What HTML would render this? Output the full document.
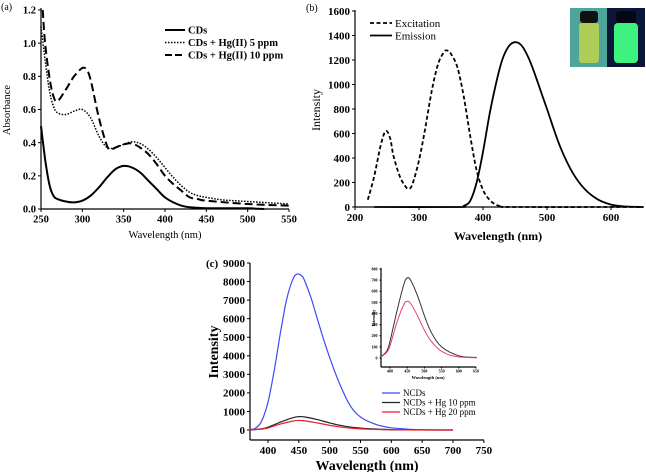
<!DOCTYPE html>
<html><head><meta charset="utf-8"><style>
body{margin:0;background:#fff;}
svg{display:block;font-family:"Liberation Serif",serif;}
</style></head><body>
<svg id="fig" width="646" height="472" viewBox="0 0 646 472">
<g id="photo">
<rect x="570" y="8" width="37" height="59" fill="#4fa59a"/>
<rect x="580" y="11" width="18" height="12" rx="3" fill="#111"/>
<rect x="579" y="23" width="20" height="40" rx="3" fill="#b7d250" opacity="0.9"/>
<rect x="607" y="8" width="38" height="59" fill="#0c1636"/>
<rect x="616" y="11" width="20" height="12" rx="3" fill="#040814"/>
<rect x="614" y="23" width="24" height="40" rx="4" fill="#3df27f"/>
</g>
</svg>
<script>
// ---- panel (a) data ----
const aCDsX=[250,255,260,265,270,280,290,300,310,320,330,340,350,360,370,380,390,400,410,420,430,450,500,510,520];
const aCDsY=[0.5,0.3,0.15,0.08,0.06,0.045,0.04,0.05,0.08,0.13,0.19,0.24,0.26,0.25,0.22,0.17,0.12,0.07,0.04,0.02,0.01,0.005,0.005,0.002,0];
const a5X=[250,255,260,265,270,280,290,300,310,320,330,340,350,360,370,380,390,400,410,420,430,440,450,470,500,550];
const a5Y=[1.1,0.9,0.72,0.62,0.58,0.57,0.59,0.6,0.55,0.44,0.37,0.37,0.39,0.405,0.395,0.36,0.31,0.25,0.19,0.14,0.1,0.08,0.07,0.055,0.045,0.03];
const a10X=[252,255,260,265,270,280,290,300,305,310,320,330,335,340,350,360,370,380,390,400,410,420,430,440,450,500,550];
const a10Y=[1.2,1.0,0.8,0.68,0.65,0.72,0.8,0.85,0.84,0.78,0.55,0.38,0.36,0.37,0.39,0.395,0.37,0.33,0.27,0.2,0.15,0.11,0.07,0.06,0.05,0.03,0.02];
const aXTicks=[250,300,350,400,450,500,550];
const aYTicks=[0,0.2,0.4,0.6,0.8,1.0,1.2];
// ---- panel (b) data ----
const bExX=[220,230,240,248,255,260,270,280,285,290,300,310,320,330,340,345,350,360,370,380,390,400,410,420,430,450,650];
const bExY=[60,250,500,620,560,420,250,160,150,190,380,650,950,1170,1270,1275,1250,1140,900,580,300,140,60,20,5,0,0];
const bEmX=[230,360,370,380,390,400,410,420,430,440,450,460,470,480,490,500,520,540,560,580,600,620,650];
const bEmY=[0,0,10,50,200,450,750,1000,1200,1310,1345,1320,1230,1100,950,800,500,280,140,60,20,5,0];
const bXTicks=[200,300,400,500,600];
const bYTicks=[0,200,400,600,800,1000,1200,1400,1600];
// ---- panel (c) data ----
const cNX=[370,380,390,400,410,420,430,440,447,455,460,470,480,490,500,510,520,530,540,550,560,580,600,630,650,700];
const cNY=[20,100,500,1500,3200,5200,7000,8100,8400,8300,8000,7100,6000,4900,3900,3000,2200,1500,1000,700,500,250,120,40,10,0];
const c10X=[370,390,400,420,440,450,460,480,500,520,550,600,650,700];
const c10Y=[0,60,150,420,660,720,700,560,380,230,100,20,5,0];
const c20X=[370,390,400,420,440,450,460,480,500,520,550,600,700];
const c20Y=[0,50,110,320,480,510,490,380,250,150,60,10,0];
const cXTicks=[400,450,500,550,600,650,700,750];
const cYTicks=[0,1000,2000,3000,4000,5000,6000,7000,8000,9000];
const ciXTicks=[400,450,500,550,600,650];
const ciYTicks=[0,100,200,300,400,500,600,700,800];

const svg=document.getElementById('fig');
const NS='http://www.w3.org/2000/svg';
function mk(tag,at,parent){const e=document.createElementNS(NS,tag);for(const k in at)e.setAttribute(k,at[k]);(parent||svg).appendChild(e);return e;}
function txt(s,x,y,size,opts,parent){const t=mk('text',Object.assign({x:x,y:y,'font-size':size},opts||{}),parent);t.textContent=s;return t;}
function lin(d0,d1,p0,p1){return v=>p0+(v-d0)/(d1-d0)*(p1-p0);}
function smoothPath(P){
  let d='M'+P[0][0].toFixed(1)+','+P[0][1].toFixed(1);
  for(let i=0;i<P.length-1;i++){
    const p0=P[Math.max(0,i-1)],p1=P[i],p2=P[i+1],p3=P[Math.min(P.length-1,i+2)];
    const c1x=p1[0]+(p2[0]-p0[0])/6,c1y=p1[1]+(p2[1]-p0[1])/6;
    const c2x=p2[0]-(p3[0]-p1[0])/6,c2y=p2[1]-(p3[1]-p1[1])/6;
    d+=' C'+c1x.toFixed(1)+','+c1y.toFixed(1)+' '+c2x.toFixed(1)+','+c2y.toFixed(1)+' '+p2[0].toFixed(1)+','+p2[1].toFixed(1);
  }
  return d;
}
function series(xs,ys,sx,sy,attrs,name){
  const P=xs.map((x,i)=>[sx(x),sy(ys[i])]);
  const p=mk('path',Object.assign({d:smoothPath(P),fill:'none','stroke-linejoin':'round'},attrs));
  
  
  return p;
}
function axes(o){
  const g=mk('g',{});
  
  
  mk('line',{x1:o.left,y1:o.bottom,x2:o.right,y2:o.bottom,stroke:'#000','stroke-width':1.2},g);
  mk('line',{x1:o.left,y1:o.bottom,x2:o.left,y2:o.top,stroke:'#000','stroke-width':1.2},g);
  o.xt.forEach(v=>{const x=o.sx(v);mk('line',{x1:x,y1:o.bottom,x2:x,y2:o.bottom+o.tl,stroke:'#000'},g);
    const t=txt(o.xf(v),x,o.bottom+o.tl+o.fs,o.fs,{'text-anchor':'middle','font-weight':o.fw},g);
    });
  o.yt.forEach(v=>{const y=o.sy(v);mk('line',{x1:o.left-o.tl,y1:y,x2:o.left,y2:y,stroke:'#000'},g);
    const t=txt(o.yf(v),o.left-o.tl-2,y+o.fs*0.35,o.fs,{'text-anchor':'end','font-weight':o.fw},g);
    });
  return g;
}
function legend(items,x,y,dy,fs,fw){
  items.forEach((it,i)=>{
    const yy=y+i*dy;
    const l=mk('line',Object.assign({x1:x,y1:yy,x2:x+it.w,y2:yy},it.a));
    
    const t=txt(it.t,x+it.w+3,yy+fs*0.35,fs,{'font-weight':fw});
    
  });
}
// panel a
{
const sx=lin(250,550,41,289), sy=lin(0,1.2,209,10);
axes({name:'panel-a-axes',left:41,right:289,top:8,bottom:209,sx,sy,xt:aXTicks,yt:aYTicks,tl:3,fs:10.5,fw:'bold',
  xf:v=>String(v),yf:v=>v.toFixed(1)});
series(aCDsX,aCDsY,sx,sy,{stroke:'#000','stroke-width':2},'series-cds');
series(a5X,a5Y,sx,sy,{stroke:'#000','stroke-width':1.5,'stroke-dasharray':'1.5,1.5'},'series-hg-5ppm');
series(a10X,a10Y,sx,sy,{stroke:'#000','stroke-width':2,'stroke-dasharray':'8,4'},'series-hg-10ppm');
legend([{t:'CDs',w:20,a:{stroke:'#000','stroke-width':2}},
        {t:'CDs + Hg(II) 5 ppm',w:20,a:{stroke:'#000','stroke-width':1.5,'stroke-dasharray':'1.5,1.5'}},
        {t:'CDs + Hg(II) 10 ppm',w:20,a:{stroke:'#000','stroke-width':2,'stroke-dasharray':'7,3'}}],165,30,12.5,10.5,'bold');
txt('(a)',1,10,10,{});
txt('Absorbance',10,110,10.5,{'text-anchor':'middle',transform:'rotate(-90 10 110)'});
txt('Wavelength (nm)',165,238,10.5,{'text-anchor':'middle'});
}
// panel b
{
const sx=lin(200,600,355,611), sy=lin(0,1600,207,11);
axes({name:'panel-b-axes',left:355,right:644,top:10,bottom:207,sx,sy,xt:bXTicks,yt:bYTicks,tl:3,fs:11,fw:'bold',
  xf:v=>String(v),yf:v=>String(v)});
series(bExX,bExY,sx,sy,{stroke:'#000','stroke-width':1.8,'stroke-dasharray':'4,2.5'},'series-excitation');
series(bEmX,bEmY,sx,sy,{stroke:'#000','stroke-width':1.8},'series-emission');
legend([{t:'Excitation',w:22,a:{stroke:'#000','stroke-width':1.8,'stroke-dasharray':'4,2.5'}},
        {t:'Emission',w:22,a:{stroke:'#000','stroke-width':1.8}}],370,23,12.5,11,'normal');
txt('(b)',306,11,10,{});
txt('Intensity',320,110,12,{'text-anchor':'middle',transform:'rotate(-90 320 110)'});
txt('Wavelength (nm)',498,240,12,{'text-anchor':'middle','font-weight':'bold'});
svg.appendChild(document.getElementById('photo'));
}
// panel c
{
const sx=lin(400,700,268,453), sy=lin(0,9000,430,263);
axes({name:'panel-c-axes',left:250,right:484,top:263,bottom:440,sx,sy,xt:cXTicks,yt:cYTicks,tl:3,fs:11,fw:'bold',
  xf:v=>String(v),yf:v=>String(v)});
series(cNX,cNY,sx,sy,{stroke:'#3b4cf5','stroke-width':1.2},'series-ncds');
series(c10X,c10Y,sx,sy,{stroke:'#222','stroke-width':1.2},'series-hg-10ppm');
series(c20X,c20Y,sx,sy,{stroke:'#e8202a','stroke-width':1.2},'series-hg-20ppm');
legend([{t:'NCDs',w:18,a:{stroke:'#3b4cf5','stroke-width':1.2}},
        {t:'NCDs + Hg 10 ppm',w:18,a:{stroke:'#222','stroke-width':1.2}},
        {t:'NCDs + Hg 20 ppm',w:18,a:{stroke:'#e8202a','stroke-width':1.2}}],382,393,9.5,9,'normal');
txt('(c)',206,267,11,{'font-weight':'bold'});
txt('Intensity',218,352,14,{'text-anchor':'middle','font-weight':'bold',transform:'rotate(-90 218 352)'});
txt('Wavelength (nm)',367,470,14,{'text-anchor':'middle','font-weight':'bold'});
// inset
const ix=lin(400,650,390,476), iy=lin(0,800,358,269);
axes({name:'panel-c-inset-axes',left:381,right:476,top:268,bottom:367,sx:ix,sy:iy,xt:ciXTicks,yt:ciYTicks,tl:1.5,fs:4,fw:'bold',
  xf:v=>String(v),yf:v=>String(v)});
const clip=mk('clipPath',{id:'ic'});mk('rect',{x:381,y:260,width:96,height:108},clip);
series(c10X,c10Y,ix,iy,{stroke:'#333','stroke-width':1,'clip-path':'url(#ic)'},'inset-series-hg-10ppm');
series(c20X,c20Y,ix,iy,{stroke:'#e8406a','stroke-width':1,'clip-path':'url(#ic)'},'inset-series-hg-20ppm');
txt('Intensity',375,318,4.5,{'text-anchor':'middle','font-weight':'bold',transform:'rotate(-90 375 318)'});
txt('Wavelength (nm)',428,379,4.5,{'text-anchor':'middle','font-weight':'bold'});
}
</script>
</body></html>
